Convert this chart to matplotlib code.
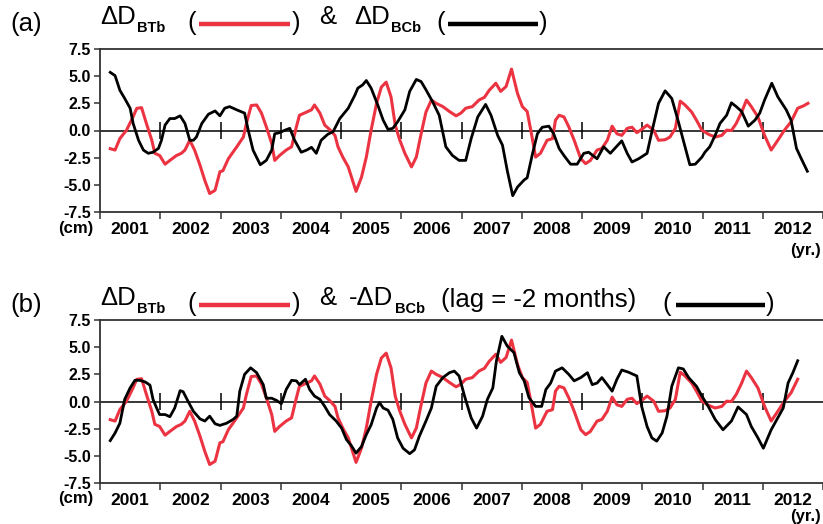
import matplotlib
matplotlib.use('Agg')
import matplotlib.pyplot as plt
from matplotlib.lines import Line2D

plt.rcParams['font.family'] = ['Liberation Sans', 'DejaVu Sans']

W, H = 823, 524
RED = '#ec3342'
AXC = '#333333'

# ---------------- data ----------------
years_btb = [2001.17, 2001.25, 2001.33, 2001.44, 2001.55, 2001.61, 2001.69, 2001.77, 2001.86, 2001.91,
             2001.99, 2002.08, 2002.16, 2002.27, 2002.35, 2002.41, 2002.49, 2002.57, 2002.66, 2002.74,
             2002.82, 2002.91, 2002.99, 2003.04, 2003.13, 2003.27, 2003.38, 2003.43, 2003.51, 2003.60,
             2003.68, 2003.76, 2003.85, 2003.90, 2003.98, 2004.09, 2004.18, 2004.26, 2004.31, 2004.43,
             2004.51, 2004.56, 2004.65, 2004.73, 2004.81, 2004.90, 2004.95, 2005.03, 2005.12, 2005.20,
             2005.25, 2005.34, 2005.42, 2005.50, 2005.59, 2005.67, 2005.75, 2005.83, 2005.90, 2005.97,
             2006.06, 2006.17, 2006.25, 2006.33, 2006.41, 2006.50, 2006.58, 2006.69, 2006.80, 2006.91,
             2006.99, 2007.07, 2007.18, 2007.29, 2007.38, 2007.46, 2007.57, 2007.65, 2007.74, 2007.83,
             2007.93, 2008.01, 2008.09, 2008.15, 2008.23, 2008.31, 2008.42, 2008.51, 2008.56, 2008.62,
             2008.70, 2008.78, 2008.87, 2008.98, 2009.06, 2009.14, 2009.25, 2009.33, 2009.42, 2009.50,
             2009.58, 2009.66, 2009.75, 2009.83, 2009.91, 2009.99, 2010.08, 2010.19, 2010.27, 2010.38,
             2010.46, 2010.55, 2010.63, 2010.71, 2010.82, 2010.90, 2010.99, 2011.10, 2011.21, 2011.32,
             2011.40, 2011.48, 2011.56, 2011.65, 2011.73, 2011.81, 2011.92, 2012.03, 2012.14, 2012.25,
             2012.36, 2012.47, 2012.58, 2012.67, 2012.75]
btb = [-1.67, -1.8, -0.74, 0.03, 1.27, 2.04, 2.1, 0.65, -0.9, -2.1,
       -2.3, -3.1, -2.75, -2.3, -2.1, -1.8, -0.9, -1.8, -3.2, -4.6,
       -5.8, -5.5, -3.8, -3.7, -2.6, -1.5, -0.6, 0.65, 2.3, 2.35,
       1.6, 0.35, -1.2, -2.75, -2.3, -1.8, -1.5, 0.35, 1.4, 1.7,
       1.9, 2.35, 1.6, 0.5, 0.1, -0.45, -1.5, -2.45, -3.35, -4.75,
       -5.6, -4.3, -2.45, 0.03, 2.5, 4.0, 4.45, 3.1, 0.5, -0.8,
       -2.1, -3.35, -2.45, -0.3, 1.7, 2.8, 2.5, 2.2, 1.75, 1.35,
       1.6, 2.05, 2.2, 2.8, 3.05, 3.7, 4.35, 3.6, 4.05, 5.65,
       3.4, 2.2, 1.75, 0.03, -2.45, -2.1, -0.9, -0.75, 0.95, 1.4,
       1.25, 0.35, -0.9, -2.6, -3.05, -2.75, -1.8, -1.65, -0.9, 0.4,
       -0.3, -0.45, 0.2, 0.3, -0.2, 0.1, 0.5, 0.03, -0.9, -0.85,
       -0.6, 0.2, 2.7, 2.35, 1.7, 0.95, 0.03, -0.35, -0.6, -0.45,
       0.03, 0.0, 0.65, 1.7, 2.8, 2.2, 1.25, -0.45, -1.8, -0.9,
       0.03, 0.8, 2.05, 2.25, 2.5]

years_bcb = [2001.17, 2001.25, 2001.33, 2001.41, 2001.50, 2001.55, 2001.64, 2001.72, 2001.80, 2001.88,
             2001.97, 2002.02, 2002.08, 2002.16, 2002.24, 2002.33, 2002.41, 2002.49, 2002.55, 2002.60,
             2002.69, 2002.80, 2002.91, 2002.99, 2003.07, 2003.15, 2003.27, 2003.40, 2003.46, 2003.54,
             2003.66, 2003.76, 2003.85, 2003.90, 2003.98, 2004.07, 2004.15, 2004.23, 2004.34, 2004.43,
             2004.51, 2004.59, 2004.67, 2004.78, 2004.87, 2004.98, 2005.12, 2005.23, 2005.28, 2005.36,
             2005.42, 2005.50, 2005.61, 2005.70, 2005.78, 2005.86, 2005.94, 2006.06, 2006.14, 2006.25,
             2006.33, 2006.41, 2006.52, 2006.63, 2006.74, 2006.85, 2006.96, 2007.07, 2007.16, 2007.27,
             2007.40, 2007.49, 2007.60, 2007.68, 2007.76, 2007.85, 2007.93, 2008.04, 2008.09, 2008.18,
             2008.26, 2008.34, 2008.45, 2008.53, 2008.62, 2008.70, 2008.81, 2008.92, 2009.03, 2009.11,
             2009.25, 2009.36, 2009.47, 2009.66, 2009.75, 2009.83, 2009.94, 2010.08, 2010.16, 2010.27,
             2010.38, 2010.49, 2010.60, 2010.71, 2010.79, 2010.88, 2010.99, 2011.04, 2011.12, 2011.21,
             2011.29, 2011.40, 2011.48, 2011.56, 2011.65, 2011.76, 2011.87, 2011.95, 2012.03, 2012.15,
             2012.25, 2012.39, 2012.47, 2012.56, 2012.64, 2012.74]
bcb = [5.35, 5.05, 3.7, 2.95, 2.05, 0.65, -0.9, -1.8, -2.1, -2.0,
       -1.65, -0.9, 0.5, 1.1, 1.1, 1.35, 0.65, -0.9, -0.9, -0.6,
       0.65, 1.5, 1.8, 1.35, 2.05, 2.2, 1.9, 1.6, 0.03, -1.8,
       -3.15, -2.75, -1.8, -0.3, -0.2, 0.03, 0.2, -0.9, -2.0, -1.8,
       -1.55, -2.1, -0.9, -0.35, -0.1, 1.1, 2.05, 3.25, 3.9, 4.2,
       4.6, 3.9, 2.35, 0.95, 0.1, 0.2, 0.8, 1.9, 3.6, 4.7,
       4.5, 3.75, 2.65, 1.4, -1.5, -2.3, -2.75, -2.75, -0.75, 1.25,
       2.4, 1.4, -0.45, -1.35, -3.7, -6.0, -5.2, -4.55, -4.35, -2.1,
       -0.3, 0.3, 0.4, -0.3, -1.65, -2.3, -3.1, -3.1, -2.1, -2.0,
       -2.6, -1.5, -2.1, -0.95, -2.1, -2.9, -2.6, -2.1, -0.1, 2.5,
       3.65, 2.95, 0.8, -1.5, -3.15, -3.1, -2.45, -2.0, -1.5, -0.45,
       0.65, 1.4, 2.55, 2.2, 1.75, 0.4, 0.95, 1.6, 2.8, 4.35,
       3.1, 1.9, 0.95, -1.65, -2.6, -3.75]

years_neg_bcb_lag = [2001.17, 2001.25, 2001.33, 2001.41, 2001.50, 2001.58, 2001.66, 2001.75, 2001.83, 2001.88,
                     2001.94, 2001.99, 2002.08, 2002.16, 2002.24, 2002.33, 2002.38, 2002.46, 2002.55, 2002.66,
                     2002.74, 2002.82, 2002.91, 2002.99, 2003.10, 2003.21, 2003.27, 2003.32, 2003.40, 2003.50,
                     2003.60, 2003.71, 2003.76, 2003.85, 2003.93, 2004.01, 2004.09, 2004.18, 2004.26, 2004.31,
                     2004.41, 2004.48, 2004.56, 2004.65, 2004.73, 2004.81, 2004.92, 2005.01, 2005.09, 2005.17,
                     2005.25, 2005.34, 2005.42, 2005.50, 2005.59, 2005.64, 2005.70, 2005.78, 2005.86, 2005.94,
                     2006.03, 2006.14, 2006.22, 2006.30, 2006.41, 2006.50, 2006.58, 2006.69, 2006.80, 2006.88,
                     2006.96, 2007.05, 2007.16, 2007.25, 2007.35, 2007.43, 2007.52, 2007.58, 2007.67, 2007.76,
                     2007.87, 2007.96, 2008.04, 2008.12, 2008.23, 2008.33, 2008.40, 2008.48, 2008.56, 2008.67,
                     2008.78, 2008.87, 2008.98, 2009.09, 2009.17, 2009.25, 2009.33, 2009.42, 2009.50, 2009.58,
                     2009.66, 2009.77, 2009.91, 2009.99, 2010.08, 2010.16, 2010.24, 2010.33, 2010.41, 2010.49,
                     2010.60, 2010.68, 2010.77, 2010.90, 2010.99, 2011.10, 2011.21, 2011.34, 2011.48, 2011.59,
                     2011.73, 2011.81, 2011.92, 2012.01, 2012.06, 2012.14, 2012.25, 2012.34, 2012.42, 2012.50,
                     2012.58]
neg_bcb_lag = [-3.6, -2.9, -2.0, 0.2, 1.25, 1.95, 1.95, 1.8, 1.5, 0.2,
               -0.6, -1.2, -1.2, -1.4, -0.6, 1.0, 0.9, 0.03, -0.9, -1.6,
               -1.8, -1.35, -2.05, -2.2, -2.0, -1.65, -1.35, 0.95, 2.5, 3.1,
               2.65, 1.55, 0.3, 0.3, 0.1, -0.2, 1.1, 1.95, 1.9, 1.55,
               2.05, 1.1, 0.5, 0.2, -0.45, -1.2, -1.8, -2.45, -3.5, -4.05,
               -4.75, -4.15, -3.05, -2.15, -0.6, -0.1, -0.6, -0.8, -1.65, -3.35,
               -4.3, -4.8, -4.45, -3.2, -1.8, -0.6, 1.4, 2.2, 2.65, 2.8,
               2.35, 0.5, -1.5, -2.45, -1.35, 0.2, 1.25, 3.75, 6.0, 5.1,
               4.5, 2.65, 1.9, 0.35, -0.45, -0.45, 1.1, 1.7, 2.8, 3.1,
               2.5, 1.9, 2.2, 2.65, 1.55, 1.7, 2.2, 1.55, 0.95, 2.05,
               2.9, 2.7, 2.35, -0.45, -2.3, -3.35, -3.65, -2.9, -1.35, 1.4,
               3.1, 3.0, 2.2, 1.4, 0.5, -0.5, -1.65, -2.6, -1.8, -0.5,
               -1.2, -2.3, -3.35, -4.3, -3.65, -2.6, -1.5, -0.6, 1.7, 2.65,
               3.75]

btb_end_panel_b = 2012.6
year_labels = ['2001', '2002', '2003', '2004', '2005', '2006',
               '2007', '2008', '2009', '2010', '2011', '2012']
year_starts = [2001, 2002, 2003, 2004, 2005, 2006, 2007,
               2008, 2009, 2010, 2011, 2012, 2013]
ytick_vals = [-7.5, -5.0, -2.5, 0.0, 2.5, 5.0, 7.5]

# ---------------- figure ----------------
fig = plt.figure(figsize=(W / 100, H / 100), dpi=100)
renderer = fig.canvas.get_renderer()
TFS = 18.5   # title font size
SFS = 10.5   # subscript font size


def fx(x):
    return x / W


def fy(y):
    return 1 - y / H


def right_px(t):
    bb = t.get_window_extent(renderer=renderer)
    return bb.x1


def make_axes(top_px, bot_px):
    ax = fig.add_axes([fx(100), fy(bot_px), 1 - fx(100), (bot_px - top_px) / H])
    ax.set_xlim(2001, 2013)
    ax.set_ylim(-7.5, 7.5)
    ax.spines['right'].set_visible(False)
    for s in ['top', 'left', 'bottom']:
        ax.spines[s].set_linewidth(1.3)
        ax.spines[s].set_color(AXC)
    ax.set_yticks(ytick_vals)
    ax.set_yticklabels([f'{v:.1f}' for v in ytick_vals], fontsize=11.5,
                       fontweight='bold')
    ax.tick_params(axis='y', direction='out', length=4, width=1.1, pad=2.5,
                   color=AXC)
    ax.set_xticks(year_starts)
    ax.set_xticklabels([])
    ax.tick_params(axis='x', which='major', direction='out', length=5,
                   width=1.1, color=AXC)
    ax.set_xticks([y + 0.5 for y in year_starts[:-1]], minor=True)
    ax.set_xticklabels(year_labels, minor=True, fontsize=12.5, fontweight='bold')
    ax.tick_params(axis='x', which='minor', length=0, pad=7)
    ax.axhline(0, color='black', lw=1.1, zorder=1)
    ax.vlines(year_starts[1:-1], -0.8, 0.8, color='black', lw=1.1, zorder=1)
    return ax


def title_row(label, base, main2_x, main2, paren2_x, tail2, black_x):
    fig.text(fx(10), fy(base + 7), label, fontsize=TFS, va='baseline')
    t1 = fig.text(fx(100), fy(base), '\u0394D', fontsize=TFS, va='baseline')
    fig.text(right_px(t1) / W + 1.5 / W, fy(base + 8), 'BTb', fontsize=SFS,
             fontweight='bold', va='baseline')
    fig.text(fx(187), fy(base + 6), '(', fontsize=TFS, va='baseline')
    fig.add_artist(Line2D([fx(199), fx(290)], [fy(base), fy(base)],
                          color=RED, lw=3.2, solid_capstyle='butt'))
    fig.text(fx(292), fy(base + 6), ')', fontsize=TFS, va='baseline')
    fig.text(fx(319), fy(base), '&', fontsize=TFS, va='baseline')
    t2 = fig.text(fx(main2_x), fy(base), main2, fontsize=TFS, va='baseline')
    fig.text(right_px(t2) / W + 1.5 / W, fy(base + 8), 'BCb', fontsize=SFS,
             fontweight='bold', va='baseline')
    if tail2:
        fig.text(fx(tail2[0]), fy(base + 2), tail2[1], fontsize=TFS,
                 va='baseline')
    fig.text(fx(paren2_x), fy(base + 6), '(', fontsize=TFS, va='baseline')
    fig.add_artist(Line2D([fx(black_x[0]), fx(black_x[1])],
                          [fy(base), fy(base)],
                          color='black', lw=3.2, solid_capstyle='butt'))
    fig.text(fx(black_x[1] + 1), fy(base + 6), ')', fontsize=TFS, va='baseline')


# panel (a)
ax1 = make_axes(49, 212)
ax1.plot(years_btb, btb, color=RED, lw=2.2, zorder=3)
ax1.plot(years_bcb, bcb, color='black', lw=2.0, zorder=4)
title_row('(a)', 24, 354, '\u0394D', 436, None, (448, 538))
fig.text(fx(93), fy(228), '(cm)', fontsize=12, fontweight='bold',
         ha='right', va='center')
fig.text(fx(821), fy(251), '(yr.)', fontsize=12, fontweight='bold',
         ha='right', va='center')

# panel (b)
ax2 = make_axes(320, 483)
yb = [y for y in years_btb if y <= btb_end_panel_b]
ax2.plot(yb, btb[:len(yb)], color=RED, lw=2.2, zorder=3)
ax2.plot(years_neg_bcb_lag, neg_bcb_lag, color='black', lw=2.0, zorder=4)
title_row('(b)', 305, 349, '-\u0394D', 662, (441, '(lag = -2 months)'), (676, 765))
fig.text(fx(93), fy(499), '(cm)', fontsize=12, fontweight='bold',
         ha='right', va='center')
fig.text(fx(821), fy(516), '(yr.)', fontsize=12, fontweight='bold',
         ha='right', va='center')

fig.savefig('out.png', dpi=100)
